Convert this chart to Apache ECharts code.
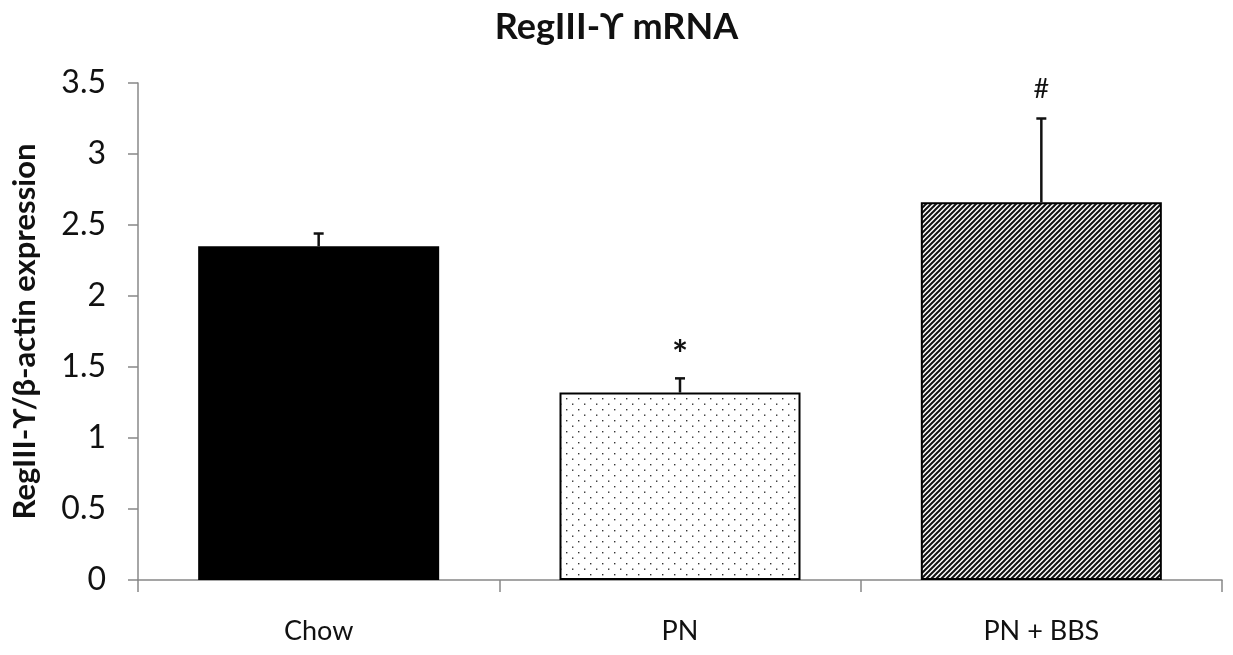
<!DOCTYPE html>
<html><head><meta charset="utf-8">
<script src="https://cdn.jsdelivr.net/npm/echarts@6/dist/echarts.min.js"></script>
<style>html,body{margin:0;padding:0;background:#fff}#c{width:1233px;height:655px}</style>
</head><body><div id="c"></div>
<script>
const categories = ['Chow', 'PN', 'PN + BBS'];
const means = [2.35, 1.32, 2.66];
const errors = [0.09, 0.10, 0.59];
const marks = ['', '*', '#'];
const yTicks = [0, 0.5, 1, 1.5, 2, 2.5, 3, 3.5];

function dotPattern() {
  const c = document.createElement('canvas'); c.width = 12; c.height = 11;
  const g = c.getContext('2d'); g.fillStyle = '#fff'; g.fillRect(0,0,12,11);
  g.fillStyle = '#333'; g.fillRect(2,2,1.4,1.4); g.fillRect(8,7.5,1.4,1.4);
  return c;
}
function hatchPattern() {
  const s = 5; const c = document.createElement('canvas'); c.width = s; c.height = s;
  const g = c.getContext('2d'); g.fillStyle = '#fff'; g.fillRect(0,0,s,s);
  g.strokeStyle = '#111'; g.lineWidth = 2;
  g.beginPath(); g.moveTo(-1, s+1); g.lineTo(s+1, -1); g.stroke();
  g.beginPath(); g.moveTo(-1, 1); g.lineTo(1, -1); g.stroke();
  g.beginPath(); g.moveTo(s-1, s+1); g.lineTo(s+1, s-1); g.stroke();
  return c;
}
const fills = ['#000', {image: dotPattern(), repeat: 'repeat'}, {image: hatchPattern(), repeat: 'repeat'}];

const font = 'Lato, "Open Sans", sans-serif';
const chart = echarts.init(document.getElementById('c'));
chart.setOption({
  animation: false,
  title: {text: 'RegIII-ϒ mRNA', left: 'center', top: 4,
    textStyle: {fontFamily: font, fontWeight: 'bold', fontSize: 36, color: '#111'}},
  grid: {left: 138, right: 11, top: 83, bottom: 75, containLabel: false},
  xAxis: {type: 'category', data: categories,
    axisLine: {lineStyle: {color: '#888', width: 1.5}},
    axisTick: {show: true, length: 12, lineStyle: {color: '#888', width: 1.5}},
    axisLabel: {fontFamily: font, fontSize: 27, color: '#111', margin: 38}},
  yAxis: {type: 'value', min: 0, max: 3.5, interval: 0.5,
    name: 'RegIII-ϒ/β-actin expression', nameLocation: 'middle', nameGap: 98,
    nameTextStyle: {fontFamily: font, fontWeight: 'bold', fontSize: 31, color: '#111'},
    axisLine: {show: true, lineStyle: {color: '#888', width: 1.5}},
    axisTick: {show: true, length: 10, lineStyle: {color: '#888', width: 1.5}},
    splitLine: {show: false},
    axisLabel: {fontFamily: font, fontSize: 32, color: '#111', margin: 32,
      formatter: v => yTicks.includes(v) ? String(v) : ''}},
  series: [
    {type: 'bar', barWidth: '66.7%',
      data: means.map((v, i) => ({value: v, itemStyle: {color: fills[i], borderColor: '#000', borderWidth: i === 0 ? 0 : 2}})),
      z: 2},
    {type: 'custom', z: 5,
      data: means.map((v, i) => [i, v, errors[i], marks[i]]),
      renderItem: (params, api) => {
        const x = api.coord([api.value(0), api.value(1)]);
        const top = api.coord([api.value(0), api.value(1) + api.value(2)]);
        const children = [
          {type: 'line', shape: {x1: x[0], y1: x[1], x2: top[0], y2: top[1]}, style: {stroke: '#111', lineWidth: 2.5}},
          {type: 'line', shape: {x1: top[0] - 5, y1: top[1], x2: top[0] + 5, y2: top[1]}, style: {stroke: '#111', lineWidth: 2.5}}
        ];
        const m = marks[params.dataIndex];
        if (m === '*') children.push({type: 'text', x: top[0], y: top[1] - 4,
          style: {text: m, fontFamily: font, fontWeight: 'bold', fontSize: 38, fill: '#111', align: 'center', verticalAlign: 'bottom'}});
        else if (m) children.push({type: 'text', x: top[0], y: top[1] - 16,
          style: {text: m, fontFamily: font, fontSize: 27, fill: '#111', align: 'center', verticalAlign: 'bottom'}});
        return {type: 'group', children};
      }}
  ]
});
</script></body></html>
